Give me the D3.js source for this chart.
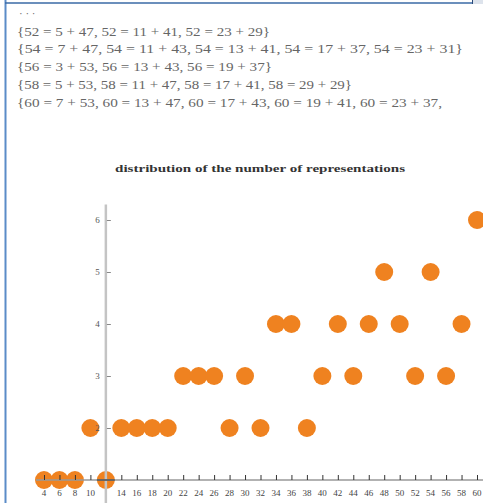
<!DOCTYPE html>
<html><head><meta charset="utf-8">
<script src="https://cdn.jsdelivr.net/npm/d3@7/dist/d3.min.js"></script>
<style>html,body{margin:0;padding:0;background:#fff;overflow:hidden}</style>
</head><body>
<svg id="c" width="483" height="503"></svg>
<script>
const textLines = [
  "{52 = 5 + 47, 52 = 11 + 41, 52 = 23 + 29}",
  "{54 = 7 + 47, 54 = 11 + 43, 54 = 13 + 41, 54 = 17 + 37, 54 = 23 + 31}",
  "{56 = 3 + 53, 56 = 13 + 43, 56 = 19 + 37}",
  "{58 = 5 + 53, 58 = 11 + 47, 58 = 17 + 41, 58 = 29 + 29}",
  "{60 = 7 + 53, 60 = 13 + 47, 60 = 17 + 43, 60 = 19 + 41, 60 = 23 + 37,"
];
const title = "distribution of the number of representations";
const evens = [4,6,8,10,12,14,16,18,20,22,24,26,28,30,32,34,36,38,40,42,44,46,48,50,52,54,56,58,60];
const counts = [1,1,1,2,1,2,2,2,2,3,3,3,2,3,2,4,4,2,3,4,3,4,5,4,3,5,3,4,6];
const yTicks = [2,3,4,5,6];
const xTickLabels = [4,6,8,10,14,16,18,20,22,24,26,28,30,32,34,36,38,40,42,44,46,48,50,52,54,56,58,60];

const svg = d3.select("#c");
// frame
svg.append("line").attr("x1",5.5).attr("x2",5.5).attr("y1",0).attr("y2",503).attr("stroke","#5b8cc8").attr("stroke-width",2);
svg.append("line").attr("x1",5).attr("x2",472).attr("y1",3).attr("y2",3).attr("stroke","#3a6aa6").attr("stroke-width",1.5);
svg.append("rect").attr("x",473).attr("y",0).attr("width",10).attr("height",4).attr("fill","#dde3ec");
svg.append("line").attr("x1",472.5).attr("x2",472.5).attr("y1",0).attr("y2",4).attr("stroke","#2a4a7a").attr("stroke-width",1);

svg.append("text").attr("x",19).attr("y",17).text("\u00b7 \u00b7 \u00b7")
  .attr("font-family","Liberation Serif").attr("font-size",11).attr("fill","#666");
const widths = [253, 446, 255, 335, 425];
const ys = [36, 53, 71, 89, 107];
svg.selectAll("text.ln").data(textLines).join("text").attr("class","ln")
  .attr("x",17).attr("y",(d,i)=>ys[i]).text(d=>d)
  .attr("textLength",(d,i)=>widths[i]).attr("lengthAdjust","spacingAndGlyphs")
  .attr("font-family","Liberation Serif").attr("font-size",11.5).attr("fill","#666");

svg.append("text").attr("x",115).attr("y",172).text(title)
  .attr("textLength",290).attr("lengthAdjust","spacingAndGlyphs")
  .attr("font-family","Liberation Serif").attr("font-weight","bold").attr("font-size",11).attr("fill","#333");

const x = d3.scaleLinear().domain([4,60]).range([44,477]);
const y = d3.scaleLinear().domain([1,6]).range([480,220]);

svg.selectAll("circle.pt").data(evens.map((e,i)=>({e,c:counts[i]}))).join("circle").attr("class","pt")
  .attr("cx",d=>x(d.e)).attr("cy",d=>y(d.c)).attr("r",9).attr("fill","#ef8220");

// y axis
const x0 = x(12);
svg.append("line").attr("x1",x0).attr("x2",x0).attr("y1",y(6.3)).attr("y2",503).attr("stroke","#c4c4c4").attr("stroke-width",2.5);
const yAxis = d3.axisRight(y).tickValues(yTicks).tickSize(4).tickFormat("");
const yg = svg.append("g").attr("transform",`translate(${x0+1},0)`).call(yAxis);
yg.select(".domain").remove();
yg.selectAll("line").attr("stroke","#888");
svg.selectAll("text.yl").data(yTicks).join("text").attr("class","yl")
  .attr("x",x0-6).attr("y",d=>y(d)+3).attr("text-anchor","end").text(d=>d)
  .attr("font-family","Liberation Serif").attr("font-size",9).attr("fill","#555");

// x axis
const y0 = y(1);
svg.append("line").attr("x1",36).attr("x2",483).attr("y1",y0).attr("y2",y0).attr("stroke","#999").attr("stroke-width",1.5);
const xAxis = d3.axisTop(x).tickValues(xTickLabels).tickSize(5).tickFormat("");
const xg = svg.append("g").attr("transform",`translate(0,${y0})`).call(xAxis);
xg.select(".domain").remove();
xg.selectAll("line").attr("stroke","#333");
svg.selectAll("text.xl").data(xTickLabels).join("text").attr("class","xl")
  .attr("x",d=>x(d)).attr("y",496).attr("text-anchor","middle").text(d=>d)
  .attr("font-family","Liberation Serif").attr("font-size",9).attr("fill","#444");
svg.append("line").attr("x1",x0-9).attr("x2",x0+9).attr("y1",y0).attr("y2",y0).attr("stroke","#555").attr("stroke-width",1.5);
</script>
</body></html>
